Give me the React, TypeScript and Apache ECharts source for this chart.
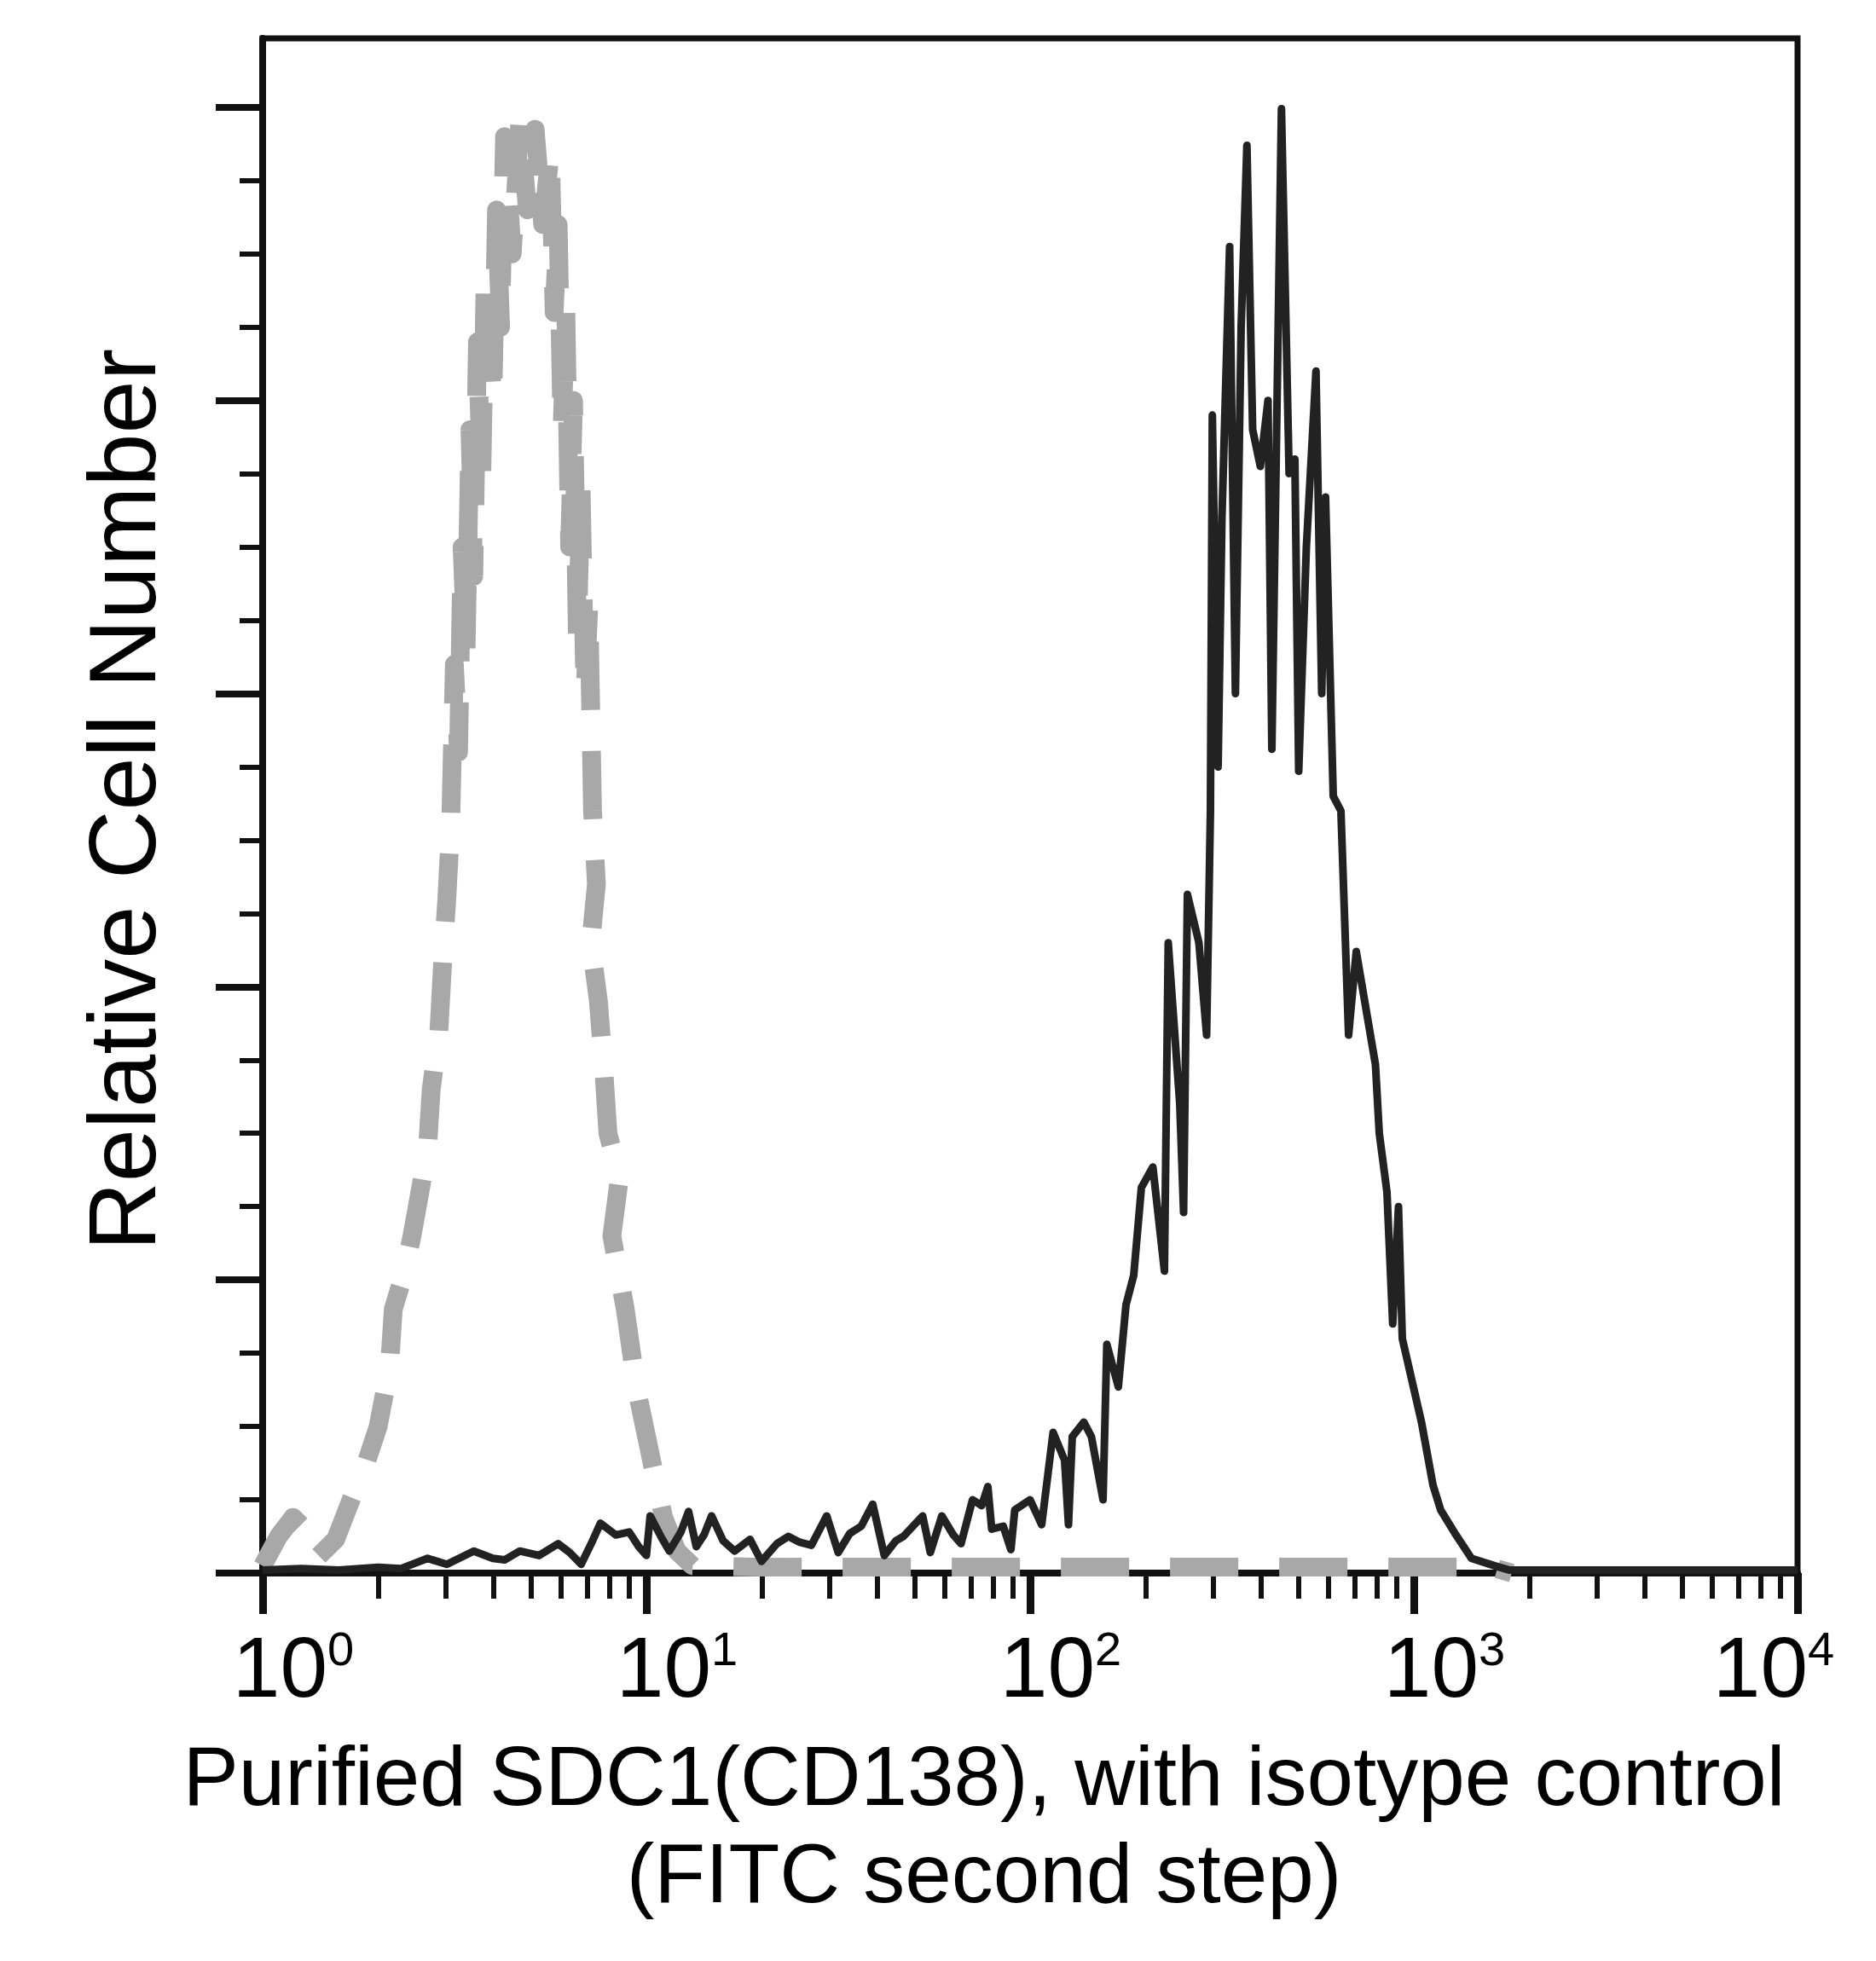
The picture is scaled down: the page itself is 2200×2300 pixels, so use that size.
import { useEffect, useRef } from "react";
import * as echarts from "echarts";

// x axis (FITC fluorescence, log scale)
const fluorTicks = [1, 10, 100, 1000, 10000];
const fluorExponents = ["0", "1", "2", "3", "4"];
const minorFluorTicks = [
  2, 3, 4, 5, 6, 7, 8, 9,
  20, 30, 40, 50, 60, 70, 80, 90,
  200, 300, 400, 500, 600, 700, 800, 900,
  2000, 3000, 4000, 5000, 6000, 7000, 8000, 9000,
];
// y axis (relative cell number, no labels)
const countTicks = [0, 20, 40, 60, 80, 100];
const countMax = 104.7;

// isotype control (grey dashed)
const isotypeFluor = [
  1.0, 1.1, 1.2, 1.29, 1.38, 1.55, 1.7, 1.86, 2.0, 2.14,
  2.19, 2.34, 2.45, 2.57, 2.69, 2.75, 2.88, 2.95, 3.02, 3.09,
  3.16, 3.24, 3.31, 3.39, 3.47, 3.55, 3.63, 3.72, 3.8, 3.98,
  4.07, 4.17, 4.27, 4.47, 4.68, 4.9, 5.13, 5.37, 5.62, 5.75,
  5.89, 6.03, 6.17, 6.31, 6.46, 6.61, 6.76, 6.92, 7.08, 7.24,
  7.41, 7.16, 7.5, 7.76, 7.94, 8.51, 8.13, 8.81, 9.44, 10.35,
  11.09, 12.02, 13.18, 20, 50, 100, 200, 500, 1000, 1600,
  1800,
];
const isotypeCount = [
  0.5, 2.5, 3.8, 3.0, 1.0, 2.3, 5, 7.5, 10, 14,
  18, 20.5, 23, 26, 29, 33, 37, 42, 46, 51,
  62, 56, 70, 63, 78, 68, 84, 74, 88, 80,
  93, 85, 98, 90, 99, 93, 98.5, 92, 97, 86,
  92, 78, 86, 70, 80, 64, 74, 60, 66, 52,
  47, 43, 39, 34, 30, 27, 23, 18, 12.5, 7.5,
  3.8, 1.5, 0.5, 0.4, 0.4, 0.4, 0.4, 0.4, 0.4, 0.4,
  0,
];

// purified SDC1 (CD138) (black solid)
const sdc1Fluor = [
  1, 1.26, 1.58, 2.0, 2.29, 2.69, 3.02, 3.55, 3.98, 4.27,
  4.68, 5.25, 5.89, 6.31, 6.76, 7.24, 7.59, 8.32, 9.02, 9.55,
  10.0, 10.23, 10.96, 11.48, 12.3, 12.88, 13.49, 14.13, 14.79, 15.85,
  16.98, 18.62, 19.95, 21.88, 23.44, 25.12, 26.92, 29.51, 31.62, 33.88,
  36.31, 38.9, 41.69, 44.67, 46.77, 52.48, 54.95, 58.88, 63.1, 66.07,
  70.79, 74.8, 77.62, 79.43, 85.11, 89.13, 91.2, 100, 107.2, 114.8,
  123, 125.9, 128.8, 138, 144.5, 154.9, 158.5, 169.8, 177.8, 186.2,
  195, 208.9, 223.9, 229.1, 245.5, 251.2, 257, 275.4, 288.4, 295.1,
  298.5, 309, 316.2, 331.1, 342.8, 354.8, 367.3, 380.2, 398.1, 416.9,
  426.6, 451.9, 473.2, 489.8, 501.2, 524.8, 555.9, 575.4, 588.8, 616.6,
  645.7, 676.1, 707.9, 794.3, 812.8, 851.1, 881, 912, 933.3, 1047,
  1122, 1175, 1288, 1413, 1622, 1778, 3162, 10000,
];
const sdc1Count = [
  0.2, 0.3, 0.2, 0.4, 0.3, 1.0, 0.6, 1.5, 1.0, 0.9,
  1.5, 1.2, 2.0, 1.4, 0.6, 2.2, 3.4, 2.6, 2.8, 1.8,
  1.2, 3.9, 2.4, 1.5, 2.8, 4.2, 1.8, 2.6, 3.9, 2.2,
  1.5, 2.3, 0.8, 2.0, 2.5, 2.1, 1.9, 3.9, 1.4, 2.7,
  3.2, 4.7, 1.2, 2.2, 2.5, 3.9, 1.4, 3.9, 2.6, 2.0,
  5.0, 4.6, 5.9, 3.0, 3.2, 1.6, 4.3, 5.0, 3.3, 9.6,
  7.7, 3.3, 9.3, 10.3, 9.3, 5.0, 15.6, 12.7, 18.3, 20.3,
  26.3, 27.7, 20.6, 43, 32, 24.6, 46.3, 43, 36.7, 52,
  79, 55, 72, 90.5, 60, 85, 97.4, 78, 75.5, 80,
  56.2, 99.9, 75, 76, 54.7, 70, 82, 60, 73.4, 53,
  52, 36.7, 42.4, 34.7, 30, 26, 17, 25, 16, 10.3,
  6.0, 4.3, 2.6, 1.0, 0.5, 0.2, 0.2, 0.2,
];

const FONT = '"Liberation Sans", Arial, Helvetica, sans-serif';
const INK = "#111";

export default function App() {
  const chartRef = useRef<HTMLDivElement | null>(null);

  useEffect(() => {
    if (!chartRef.current) return;
    document.body.style.margin = "0";
    const chart = echarts.init(chartRef.current, null, { renderer: "svg" });

    const decadeLabel = (value: number) => {
      const idx = fluorTicks.findIndex((t) => Math.abs(t - value) / t < 1e-6);
      if (idx < 0) return "";
      const exp = fluorExponents[idx];
      // last label sits left of its tick, the others a bit to the right
      if (idx === fluorTicks.length - 1) return `{base|10}{sup|${exp}}{padR| }`;
      return `{padL| }{base|10}{sup|${exp}}`;
    };

    chart.setOption({
      animation: false,
      backgroundColor: "#fff",
      textStyle: { fontFamily: FONT },
      grid: {
        left: 308,
        top: 45,
        width: 1800,
        height: 1800,
        show: true,
        borderColor: INK,
        borderWidth: 7,
        backgroundColor: "transparent",
        outerBoundsMode: "none",
      },
      xAxis: [
        {
          type: "log",
          logBase: 10,
          min: 1,
          max: 10000,
          position: "bottom",
          offset: 0,
          splitLine: { show: false },
          axisLine: { show: true, onZero: false, lineStyle: { color: INK, width: 8 } },
          axisTick: {
            show: true,
            inside: false,
            length: 48,
            customValues: fluorTicks,
            lineStyle: { color: INK, width: 9 },
          },
          minorTick: { show: false },
          axisLabel: {
            show: true,
            customValues: fluorTicks,
            showMinLabel: true,
            showMaxLabel: true,
            hideOverlap: false,
            margin: 60,
            align: "center",
            color: "#000",
            fontFamily: FONT,
            formatter: decadeLabel,
            rich: {
              base: { fontSize: 100, lineHeight: 100, fontFamily: FONT, color: "#000" },
              sup: {
                fontSize: 56,
                lineHeight: 56,
                verticalAlign: "top",
                fontFamily: FONT,
                color: "#000",
              },
              padL: { width: 72, fontSize: 100, lineHeight: 100 },
              padR: { width: 56, fontSize: 100, lineHeight: 100 },
            },
          },
          name: "Purified SDC1(CD138), with isotype control\n(FITC second step)",
          nameLocation: "middle",
          nameGap: 181,
          nameTextStyle: {
            fontSize: 98,
            lineHeight: 114,
            color: "#000",
            fontFamily: FONT,
            align: "center",
            padding: [0, 108, 0, 0],
          },
        },
        {
          type: "log",
          logBase: 10,
          min: 1,
          max: 10000,
          position: "bottom",
          offset: 0,
          splitLine: { show: false },
          axisLine: { show: false, onZero: false },
          axisTick: {
            show: true,
            inside: false,
            length: 30,
            customValues: minorFluorTicks,
            lineStyle: { color: INK, width: 6 },
          },
          axisLabel: { show: false },
        },
      ],
      yAxis: {
        type: "value",
        min: 0,
        max: countMax,
        interval: 20,
        position: "left",
        splitLine: { show: false },
        axisLine: { show: true, onZero: false, lineStyle: { color: INK, width: 8 } },
        axisTick: {
          show: true,
          inside: false,
          length: 55,
          customValues: countTicks,
          lineStyle: { color: INK, width: 8 },
        },
        minorTick: {
          show: true,
          splitNumber: 4,
          length: 27,
          lineStyle: { color: INK, width: 6 },
        },
        axisLabel: { show: false },
        name: "Relative Cell Number",
        nameLocation: "middle",
        nameGap: 109,
        nameTextStyle: {
          fontSize: 112,
          lineHeight: 112,
          color: "#000",
          fontFamily: FONT,
          padding: [0, 0, 0, 14],
        },
      },
      series: [
        {
          name: "Isotype control",
          type: "line",
          xAxisIndex: 0,
          yAxisIndex: 0,
          data: isotypeFluor.map((x, i) => [x, isotypeCount[i]]),
          showSymbol: false,
          symbol: "none",
          silent: true,
          z: 2,
          lineStyle: {
            color: "#a8a8a8",
            width: 22,
            type: [80, 48],
            cap: "butt",
            join: "round",
          },
        },
        {
          name: "Purified SDC1(CD138)",
          type: "line",
          xAxisIndex: 0,
          yAxisIndex: 0,
          data: sdc1Fluor.map((x, i) => [x, sdc1Count[i]]),
          showSymbol: false,
          symbol: "none",
          silent: true,
          z: 3,
          lineStyle: { color: "#222", width: 9, join: "round" },
        },
      ],
    });

    return () => {
      chart.dispose();
    };
  }, []);

  return (
    <div
      ref={chartRef}
      style={{ width: 2200, height: 2300, background: "#fff" }}
    />
  );
}
